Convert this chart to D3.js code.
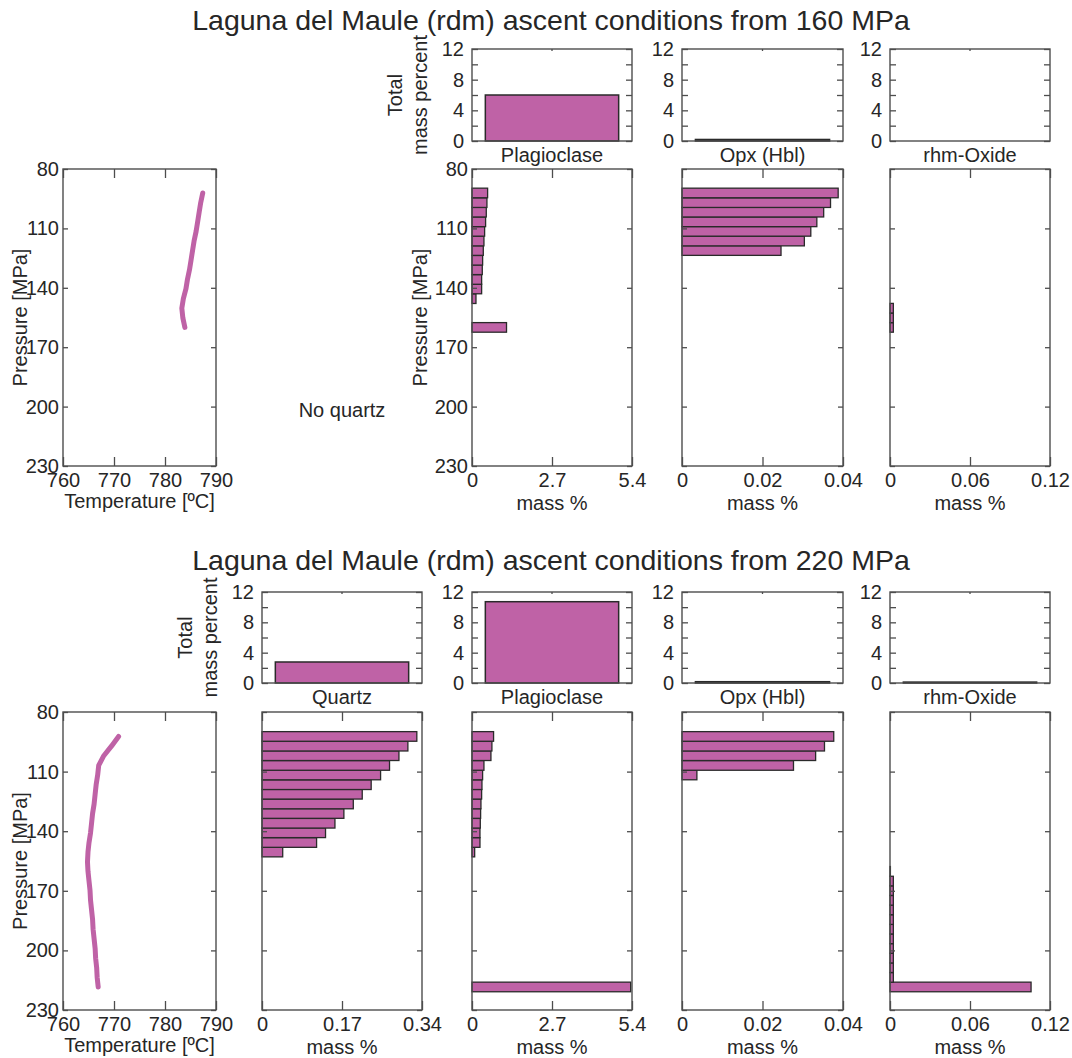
<!DOCTYPE html>
<html>
<head>
<meta charset="utf-8">
<script src="https://cdn.jsdelivr.net/npm/d3@7"></script>
<style>
  body { margin: 0; background: #fff; }
  svg text { font-family: "Liberation Sans", Arial, sans-serif; fill: #262626; }
</style>
</head>
<body>
<svg id="fig" width="1072" height="1058"></svg>
<script>
// ---- data ----
const mineralNames = ["Quartz", "Plagioclase", "Opx (Hbl)", "rhm-Oxide"];
const massMax = [0.34, 5.4, 0.04, 0.12];
const massTicks = [[0, 0.17, 0.34], [0, 2.7, 5.4], [0, 0.02, 0.04], [0, 0.06, 0.12]];
const pressureTicks = [80, 110, 140, 170, 200, 230];
const tempTicks = [760, 770, 780, 790];
const totalTicks = [0, 2, 4, 6, 8, 10, 12];

// ascent from 160 MPa
const p160 = [160, 155.2, 150.3, 145.5, 140.6, 135.8, 130.9, 126.1, 121.2, 116.4, 111.5, 106.7, 101.8, 97.0, 92.1];
const t160 = [783.9, 783.5, 783.3, 783.6, 784.1, 784.4, 784.8, 785.1, 785.4, 785.7, 786.1, 786.4, 786.7, 787.0, 787.4];
const plag160 = [1.165, 0, 0, 0.134, 0.325, 0.325, 0.347, 0.359, 0.381, 0.403, 0.426, 0.459, 0.482, 0.504, 0.527];
const opx160 = [0, 0, 0, 0, 0, 0, 0, 0, 0.0246, 0.0304, 0.0320, 0.0335, 0.0352, 0.0369, 0.0388];
const rhm160 = [0.0025, 0.0025, 0.0025, 0, 0, 0, 0, 0, 0, 0, 0, 0, 0, 0, 0];
const total160 = [null, 6.0, 0.2, 0];

// ascent from 220 MPa
const p220 = [218.4, 213.6, 208.7, 203.9, 199.0, 194.2, 189.3, 184.5, 179.6, 174.8, 169.9, 165.1, 160.2, 155.4,
              150.5, 145.7, 140.8, 136.0, 131.1, 126.3, 121.4, 116.6, 111.7, 106.9, 102.0, 97.2, 92.3];
const t220 = [766.9, 766.7, 766.6, 766.4, 766.3, 766.1, 765.9, 765.8, 765.6, 765.4, 765.3, 765.1, 764.9, 764.8,
              764.9, 765.1, 765.4, 765.6, 765.8, 766.1, 766.3, 766.5, 766.8, 767.0, 768.0, 769.5, 770.9];
const qtz220 = [0, 0, 0, 0, 0, 0, 0, 0, 0, 0, 0, 0, 0, 0,
                0.044, 0.116, 0.135, 0.155, 0.174, 0.194, 0.213, 0.232, 0.252, 0.271, 0.291, 0.310, 0.329];
const plag220 = [5.355, 0, 0, 0, 0, 0, 0, 0, 0, 0, 0, 0, 0, 0,
                 0.090, 0.269, 0.269, 0.280, 0.291, 0.302, 0.325, 0.336, 0.358, 0.403, 0.639, 0.672, 0.728];
const opx220 = [0, 0, 0, 0, 0, 0, 0, 0, 0, 0, 0, 0, 0, 0,
                0, 0, 0, 0, 0, 0, 0, 0, 0.0037, 0.0277, 0.0332, 0.0354, 0.0377];
const rhm220 = [0.1058, 0.0025, 0.0025, 0.0025, 0.0025, 0.0025, 0.0025, 0.0025, 0.0025, 0.0025, 0.0025, 0.0025, 0.0003, 0,
                0, 0, 0, 0, 0, 0, 0, 0, 0, 0, 0, 0, 0];
const total220 = [2.77, 10.72, 0.17, 0.12];

// ---- layout ----
const svg = d3.select("#fig");
const purple = "#bf62a6", edge = "#2a2a2a", axisCol = "#4d4d4d";
const font = "'Liberation Sans', Arial, sans-serif";
const fs = 20;
const tempX = [63, 216];
const cols = [[262, 422], [472, 632], [682, 843], [890, 1050]];
const halfStep = 2.42; // half a pressure step, bar thickness in MPa

const rows = [
  { title: "Laguna del Maule (rdm) ascent conditions from 160 MPa", titleY: 30,
    barY: [49, 141], mainY: [169, 466], p: p160, t: t160,
    mass: [null, plag160, opx160, rhm160], totals: total160, firstCol: 1 },
  { title: "Laguna del Maule (rdm) ascent conditions from 220 MPa", titleY: 570,
    barY: [592, 683], mainY: [712, 1010], p: p220, t: t220,
    mass: [qtz220, plag220, opx220, rhm220], totals: total220, firstCol: 0 }
];

function styleAxis(g) {
  g.attr("font-size", fs).attr("font-family", font).attr("color", "#262626");
  g.select(".domain").remove();
  g.selectAll(".tick line").attr("stroke", axisCol).attr("stroke-width", 1.3);
}

function frame(g, x, y) {
  const [x0, x1] = x.range(), [y0, y1] = y.range();
  g.append("rect")
    .attr("x", x0).attr("y", Math.min(y0, y1))
    .attr("width", x1 - x0).attr("height", Math.abs(y1 - y0))
    .attr("fill", "none").attr("stroke", axisCol).attr("stroke-width", 1.4);
}

// y axis ticks inward on both sides, x ticks inward top and bottom
function boxAxes(g, x, y, yLabels, xTickVals, xFmt) {
  const [x0, x1] = x.range(), [yb, yt] = y.range().slice().sort((a, b) => b - a);
  g.append("g").attr("transform", `translate(${x0},0)`)
    .call(d3.axisLeft(y).tickValues(pressureTicks).tickSizeInner(-5).tickSizeOuter(0).tickPadding(4)
      .tickFormat(yLabels ? d => d : () => ""))
    .call(styleAxis);
  g.append("g").attr("transform", `translate(${x1},0)`)
    .call(d3.axisRight(y).tickValues(pressureTicks).tickSizeInner(-5).tickSizeOuter(0).tickFormat(() => ""))
    .call(styleAxis);
  g.append("g").attr("transform", `translate(0,${yb})`)
    .call(d3.axisBottom(x).tickValues(xTickVals).tickSizeInner(-9).tickSizeOuter(0).tickPadding(7).tickFormat(xFmt))
    .call(styleAxis);
  g.append("g").attr("transform", `translate(0,${yt})`)
    .call(d3.axisTop(x).tickValues(xTickVals).tickSizeInner(-9).tickSizeOuter(0).tickFormat(() => ""))
    .call(styleAxis);
  frame(g, x, y);
}

function label(g, text, x, y, rotate) {
  g.append("text")
    .attr("transform", `translate(${x},${y})` + (rotate ? " rotate(-90)" : ""))
    .attr("text-anchor", "middle").attr("dominant-baseline", "central")
    .attr("font-size", fs).text(text);
}

rows.forEach(row => {
  const g = svg.append("g");
  g.append("text").attr("x", 551).attr("y", row.titleY)
    .attr("text-anchor", "middle").attr("font-size", 28.5).text(row.title);

  const y = d3.scaleLinear().domain([80, 230]).range(row.mainY);
  const midY = (row.mainY[0] + row.mainY[1]) / 2;

  // temperature path
  const xT = d3.scaleLinear().domain([760, 790]).range(tempX);
  const tp = g.append("g");
  tp.append("path")
    .datum(d3.zip(row.p, row.t))
    .attr("fill", "none").attr("stroke", purple).attr("stroke-width", 5)
    .attr("stroke-linecap", "round").attr("stroke-linejoin", "round")
    .attr("d", d3.line().x(d => xT(d[1])).y(d => y(d[0])));
  boxAxes(tp, xT, y, true, tempTicks, d => d);
  label(g, "Pressure [MPa]", 20, midY, true);
  label(g, "Temperature [ºC]", (tempX[0] + tempX[1]) / 2, row.mainY[1] + 35, false);

  const yB = d3.scaleLinear().domain([0, 12]).range([row.barY[1], row.barY[0]]);

  mineralNames.forEach((name, i) => {
    const [c0, c1] = cols[i];
    const vals = row.mass[i];
    if (!vals) {
      label(g, "No " + name.toLowerCase(), (c0 + c1) / 2, 410, false);
      return;
    }
    // total mass bar
    const xB = d3.scaleBand().domain([name]).range([c0, c1]).paddingInner(0).paddingOuter(0.1);
    const bg = g.append("g");
    if (row.totals[i] > 0) {
      bg.append("rect")
        .attr("x", xB(name)).attr("width", xB.bandwidth())
        .attr("y", yB(row.totals[i])).attr("height", yB(0) - yB(row.totals[i]))
        .attr("fill", purple).attr("stroke", edge).attr("stroke-width", 1.5);
    }
    bg.append("g").attr("transform", `translate(${c0},0)`)
      .call(d3.axisLeft(yB).tickValues(totalTicks).tickSizeInner(-6).tickSizeOuter(0).tickPadding(8)
        .tickFormat(d => d % 4 === 0 ? d : ""))
      .call(styleAxis);
    bg.append("g").attr("transform", `translate(${c1},0)`)
      .call(d3.axisRight(yB).tickValues(totalTicks).tickSizeInner(-6).tickSizeOuter(0).tickFormat(() => ""))
      .call(styleAxis);
    bg.append("g").attr("transform", `translate(0,${row.barY[0]})`)
      .call(d3.axisTop(xB).tickSizeInner(-2).tickSizeOuter(0).tickFormat(() => ""))
      .call(styleAxis);
    frame(bg, d3.scaleLinear().range([c0, c1]), yB);
    label(g, name, (c0 + c1) / 2, row.barY[1] + 14, false);
    if (i === row.firstCol) {
      label(g, "Total", c0 - 77, (row.barY[0] + row.barY[1]) / 2, true);
      label(g, "mass percent", c0 - 52, (row.barY[0] + row.barY[1]) / 2, true);
    }

    // mass % per pressure step
    const x = d3.scaleLinear().domain([0, massMax[i]]).range([c0, c1]);
    const mg = g.append("g");
    mg.selectAll("rect.bar")
      .data(d3.zip(row.p, vals).filter(d => d[1] > 0))
      .enter().append("rect")
      .attr("class", "bar")
      .attr("x", x(0))
      .attr("y", d => y(d[0] - halfStep))
      .attr("width", d => x(d[1]) - x(0))
      .attr("height", d => y(d[0] + halfStep) - y(d[0] - halfStep))
      .attr("fill", purple).attr("stroke", edge).attr("stroke-width", 1.3);
    const showY = row.firstCol === 1 && i === 1;
    boxAxes(mg, x, y, showY, massTicks[i], d => d);
    if (showY) label(g, "Pressure [MPa]", c0 - 52, midY, true);
    label(g, "mass %", (c0 + c1) / 2, row.mainY[1] + 37, false);
  });
});
</script>
</body>
</html>
